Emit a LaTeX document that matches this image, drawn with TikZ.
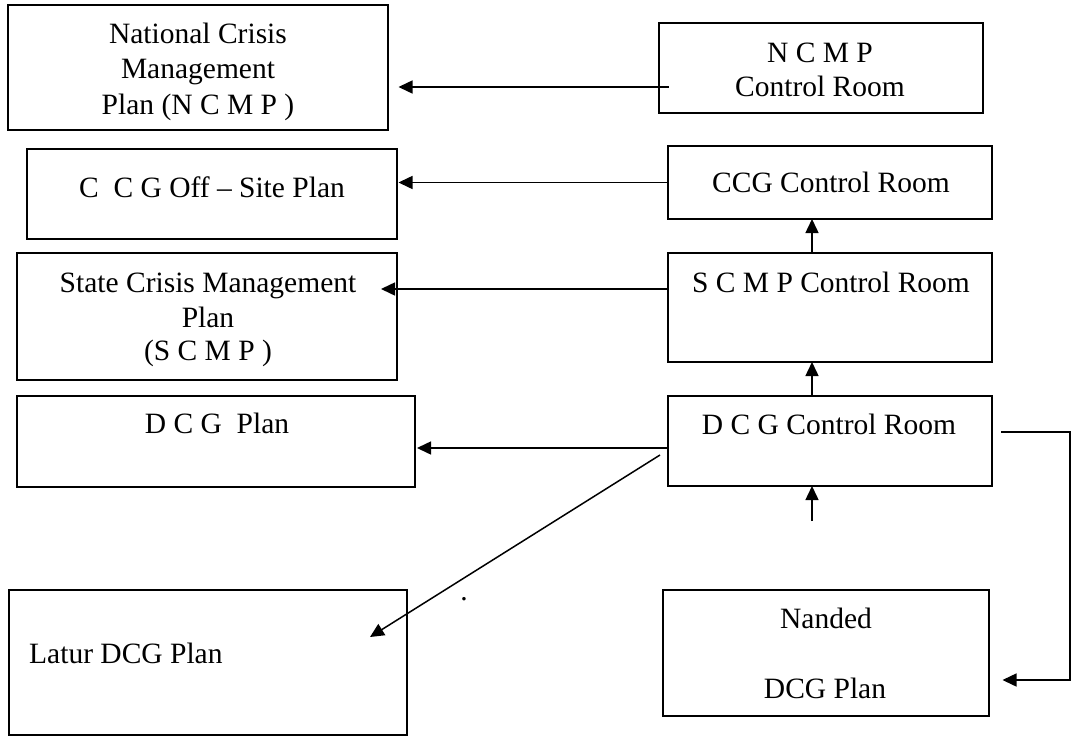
\documentclass[tikz,border=0pt]{standalone}
\usepackage{fontspec}
\setmainfont{Liberation Serif}
\usetikzlibrary{arrows.meta}
\begin{document}
\begin{tikzpicture}[x=1pt,y=-1pt,
  box/.style 2 args={draw, line width=1.4pt, inner sep=0pt, outer sep=0pt, minimum width=#1pt, minimum height=#2pt},
  txt/.style={inner sep=0pt, anchor=base, font=\fontsize{29.5}{35}\selectfont},
  arr/.style={line width=1.5pt, -{Triangle[length=14pt,width=13pt]}}]
\useasboundingbox (0,0) rectangle (1071,736);
% boxes
\node[box={380}{125}] (A) at (198,67.5) {};
\node[box={324}{90}]  (B) at (821,68) {};
\node[box={370}{90}]  (C) at (212,194) {};
\node[box={324}{73}]  (D) at (830,182.5) {};
\node[box={380}{127}] (E) at (207,316.5) {};
\node[box={324}{109}] (F) at (830,307.5) {};
\node[box={398}{91}]  (G) at (216,441.5) {};
\node[box={324}{90}]  (H) at (830,441) {};
\node[box={398}{145}] (I) at (208,662.5) {};
\node[box={326}{126}] (J) at (826,653) {};
% texts
\node[txt] (tA1) at (198,43) {National Crisis};
\node[txt] (tA2) at (198,78) {Management};
\node[txt] (tA3) at (198,114) {Plan (N C M P )};
\node[txt] (tB1) at (820,62) {N C M P};
\node[txt] (tB2) at (820,96) {Control Room};
\node[txt] (tC)  at (212,197) {C\ \ C G Off – Site Plan};
\node[txt] (tD)  at (831,192) {CCG Control Room};
\node[txt] (tE1) at (208,292) {State Crisis Management};
\node[txt] (tE2) at (208,327) {Plan};
\node[txt] (tE3) at (208,360) {(S C M P )};
\node[txt] (tF)  at (831,292) {S C M P Control Room};
\node[txt] (tG)  at (217,433) {D C G\ \ Plan};
\node[txt] (tH)  at (829,434) {D C G Control Room};
\node[txt, anchor=base west] (tI) at (29,663) {Latur DCG Plan};
\node[txt] (tJ1) at (826,628) {Nanded};
\node[txt] (tJ2) at (825,698) {DCG Plan};
\node[txt] (dot) at (464,600) {.};
% connectors
\draw[arr] ([shift={(9.5,19)}]B.west) -- ([shift={(10.5,19.5)}]A.east);
\draw[arr] (D.west) -- ([shift={(1.5,-11.5)}]C.east);
\draw[arr] ([shift={(0,-18.5)}]F.west) -- ([shift={(-16,-27.5)}]E.east);
\draw[arr] ([shift={(0,7)}]H.west) -- ([shift={(2,6.5)}]G.east);
\draw[arr] ([xshift=-18pt]F.north) -- ([xshift=-18pt]D.south);
\draw[arr] ([xshift=-18pt]H.north) -- ([xshift=-18pt]F.south);
\coordinate (hin) at (812,521);
\draw[arr] (hin) -- ([xshift=-18pt]H.south);
\draw[arr] ([shift={(-8,14)}]H.west) -- ([shift={(-37,-25.5)}]I.east);
\draw[arr] ([shift={(9,-9)}]H.east) -- ++(69,0) |- ([shift={(13.5,27)}]J.east);
\end{tikzpicture}
\end{document}
